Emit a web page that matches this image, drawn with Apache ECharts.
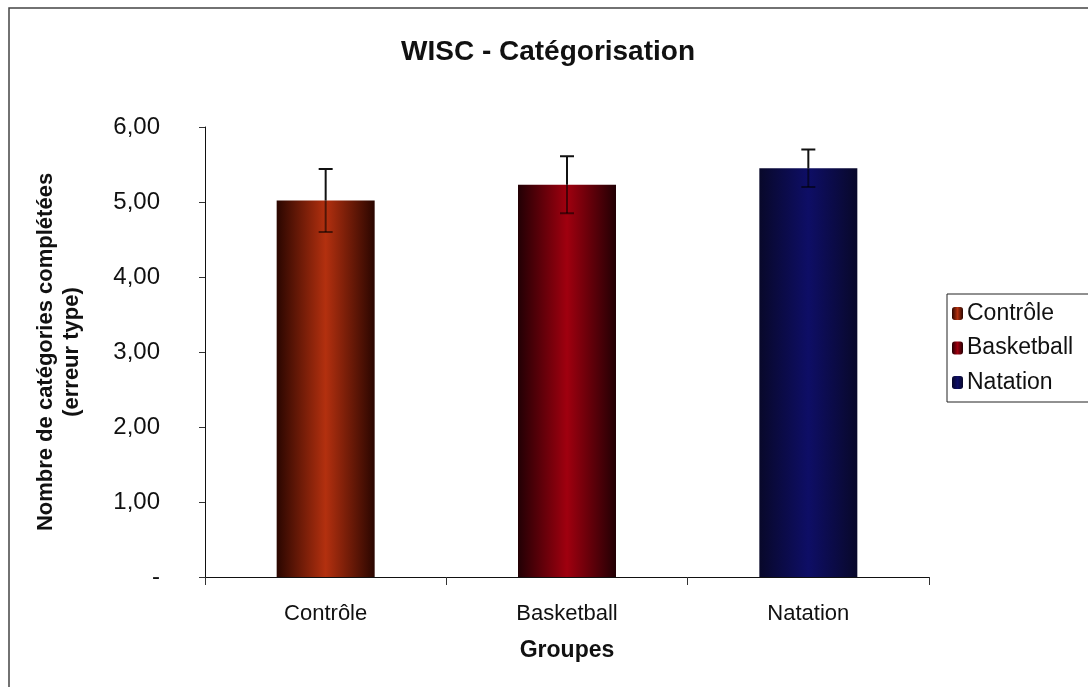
<!doctype html>
<html>
<head>
    <meta charset="utf-8">
    <title>WISC - Catégorisation</title>
    <script src="https://cdn.jsdelivr.net/npm/echarts@6/dist/echarts.min.js"></script>
    <style>
        html, body { margin: 0; padding: 0; background: #fff; }
        #Chart { width: 1088px; height: 687px; }
    </style>
</head>
<body>
    <div id="Chart"></div>
<script>
    var groups = ['Contrôle', 'Basketball', 'Natation'];
    var means = [5.02, 5.23, 5.45];
    var errors = [0.42, 0.38, 0.25];
    var yTicks = [0, 1, 2, 3, 4, 5, 6];

    // couleurs: bord sombre, centre clair
    var barColors = [
        ['#2a0600', '#b3300f'],
        ['#220004', '#a0000f'],
        ['#08082a', '#0e0e66']
    ];

    function grad(c) {
        return new echarts.graphic.LinearGradient(0, 0, 1, 0, [
            { offset: 0, color: c[0] },
            { offset: 0.5, color: c[1] },
            { offset: 1, color: c[0] }
        ]);
    }

    var font = '"Liberation Sans", Arial, sans-serif';
    var myChart = echarts.init(document.getElementById('Chart'));

    var series = [];
    for (var i = 0; i < groups.length; i++) {
        var d = groups.map(function (g, j) { return j === i ? means[i] : null; });
        series.push({
            name: groups[i],
            type: 'bar',
            barWidth: 98,
            barGap: '-100%',
            itemStyle: { color: grad(barColors[i]) },
            data: d
        });
    }

    series.push({
        name: 'erreur',
        type: 'custom',
        z: 10,
        data: groups.map(function (g, i) { return [i, means[i] - errors[i], means[i], means[i] + errors[i]]; }),
        renderItem: function (params, api) {
            var x = api.coord([api.value(0), 0])[0];
            var lo = api.coord([api.value(0), api.value(1)])[1];
            var mid = api.coord([api.value(0), api.value(2)])[1];
            var hi = api.coord([api.value(0), api.value(3)])[1];
            var w = 7;
            var top = { stroke: '#111', lineWidth: 2 };
            var bot = { stroke: 'rgba(0,0,0,0.55)', lineWidth: 2 };
            return {
                type: 'group',
                children: [
                    { type: 'line', shape: { x1: x, y1: hi, x2: x, y2: mid }, style: top },
                    { type: 'line', shape: { x1: x - w, y1: hi, x2: x + w, y2: hi }, style: top },
                    { type: 'line', shape: { x1: x, y1: mid, x2: x, y2: lo }, style: bot },
                    { type: 'line', shape: { x1: x - w, y1: lo, x2: x + w, y2: lo }, style: bot }
                ]
            };
        }
    });

    var option = {
        backgroundColor: '#fff',
        animation: false,
        textStyle: { fontFamily: font },
        title: {
            text: 'WISC - Catégorisation',
            left: 543,
            textAlign: 'center',
            top: 33,
            textStyle: { fontFamily: font, fontSize: 28, fontWeight: 'bold', color: '#111' }
        },
        legend: {
            data: groups,
            orient: 'vertical',
            left: 947,
            top: 294,
            padding: [8, 40, 8, 5],
            itemGap: 11.5,
            itemWidth: 11,
            itemHeight: 13,
            borderColor: '#222',
            borderWidth: 1,
            backgroundColor: '#fff',
            textStyle: { fontFamily: font, fontSize: 23, color: '#111', padding: [0, 0, 0, -1] }
        },
        grid: { left: 205, right: 159, top: 127, bottom: 110 },
        xAxis: {
            type: 'category',
            data: groups,
            name: 'Groupes',
            nameLocation: 'middle',
            nameGap: 62,
            nameTextStyle: { fontFamily: font, fontSize: 23, fontWeight: 'bold', color: '#111' },
            axisLine: { lineStyle: { color: '#111', width: 1 } },
            axisTick: { show: true, length: 8, lineStyle: { color: '#333' } },
            axisLabel: { fontFamily: font, fontSize: 22, color: '#111', margin: 26 }
        },
        yAxis: {
            type: 'value',
            min: yTicks[0],
            max: yTicks[yTicks.length - 1],
            interval: 1,
            name: 'Nombre de catégories complétées\n(erreur type)',
            nameLocation: 'middle',
            nameGap: 120,
            nameTextStyle: { fontFamily: font, fontSize: 22, fontWeight: 'bold', color: '#111', lineHeight: 26 },
            axisLine: { show: true, lineStyle: { color: '#111', width: 1 } },
            axisTick: { show: true, length: 6, lineStyle: { color: '#333' } },
            splitLine: { show: false },
            axisLabel: {
                fontFamily: font, fontSize: 24, color: '#111', margin: 45,
                formatter: function (v) { return v === 0 ? '-' : v.toFixed(2).replace('.', ','); }
            }
        },
        graphic: [{
            type: 'rect',
            shape: { x: 9, y: 8, width: 1200, height: 800 },
            style: { fill: 'none', stroke: '#444', lineWidth: 1.5 },
            silent: true
        }],
        series: series
    };
    myChart.setOption(option);
</script>
</body>
</html>
